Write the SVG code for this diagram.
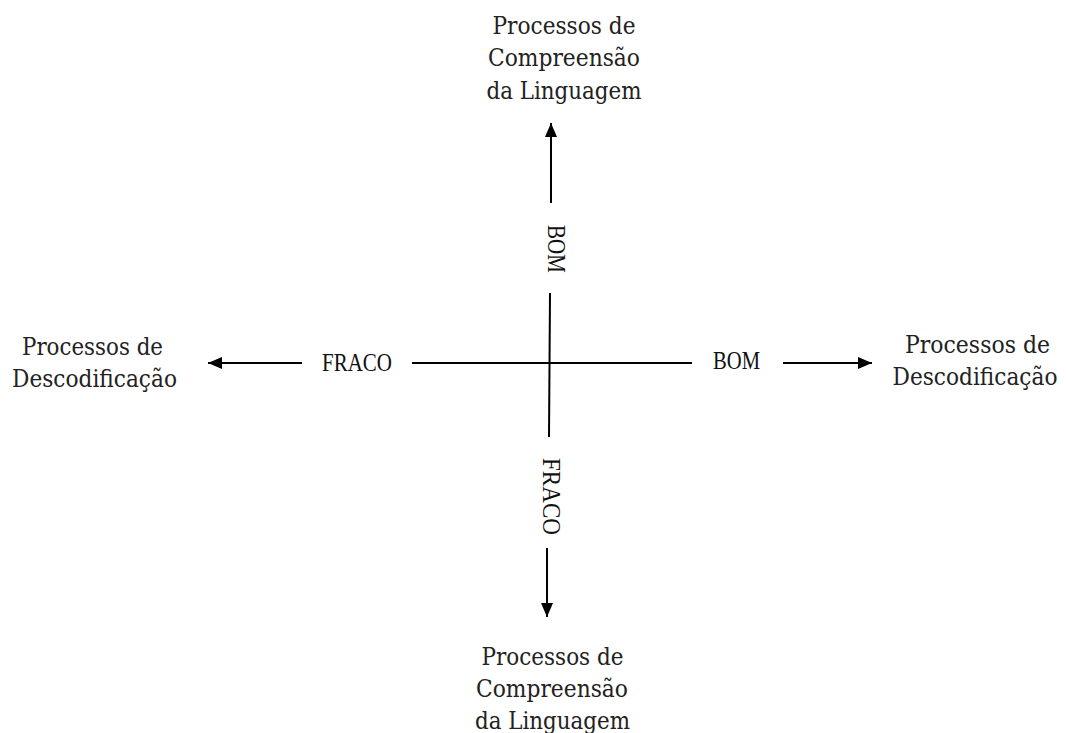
<svg xmlns="http://www.w3.org/2000/svg" width="1066" height="733" viewBox="0 0 1066 733">
  <style>
    .big { font-family: "DejaVu Serif", "Liberation Serif", serif; font-size: 25px; fill: #222; text-anchor: middle; }
    .lbl { font-family: "Liberation Serif", "Times New Roman", serif; font-size: 25px; fill: #111; text-anchor: middle; }
    .ln { stroke: #000; stroke-width: 2; fill: none; }
  </style>
  <defs>
    <marker id="ah" viewBox="0 0 14 12" refX="14" refY="6" markerWidth="14" markerHeight="12" markerUnits="userSpaceOnUse" orient="auto">
      <path d="M0,0 L14,6 L0,12 Z" fill="#000"/>
    </marker>
  </defs>
  <rect width="1066" height="733" fill="#fff"/>

  <g id="connectors">
    <line class="ln" x1="412" y1="363" x2="692" y2="363"/>
    <line class="ln" x1="550" y1="293" x2="549" y2="437"/>
    <line class="ln" x1="551" y1="203" x2="551" y2="123" marker-end="url(#ah)"/>
    <line class="ln" x1="547" y1="548" x2="547" y2="617" marker-end="url(#ah)"/>
    <line class="ln" x1="302" y1="363" x2="208" y2="363" marker-end="url(#ah)"/>
    <line class="ln" x1="783" y1="363" x2="872" y2="363" marker-end="url(#ah)"/>
  </g>

  <g id="label-fraco-left">
    <text class="lbl" x="357" y="371" textLength="70" lengthAdjust="spacingAndGlyphs">FRACO</text>
  </g>
  <g id="label-bom-right">
    <text class="lbl" x="736.5" y="368.5" textLength="47" lengthAdjust="spacingAndGlyphs">BOM</text>
  </g>
  <g id="label-bom-top">
    <text class="lbl" transform="translate(548,249) rotate(90)" x="0" y="0" textLength="48" lengthAdjust="spacingAndGlyphs">BOM</text>
  </g>
  <g id="label-fraco-bottom">
    <text class="lbl" transform="translate(542.5,496.5) rotate(90)" x="0" y="0" textLength="77" lengthAdjust="spacingAndGlyphs">FRACO</text>
  </g>

  <g id="node-top">
    <text class="big" x="564" y="34" textLength="143" lengthAdjust="spacingAndGlyphs">Processos de</text>
    <text class="big" x="564" y="66" textLength="152" lengthAdjust="spacingAndGlyphs">Compreensão</text>
    <text class="big" x="564" y="99" textLength="155" lengthAdjust="spacingAndGlyphs">da Linguagem</text>
  </g>
  <g id="node-bottom">
    <text class="big" x="552.5" y="665" textLength="142" lengthAdjust="spacingAndGlyphs">Processos de</text>
    <text class="big" x="552" y="697" textLength="152" lengthAdjust="spacingAndGlyphs">Compreensão</text>
    <text class="big" x="552.5" y="729" textLength="155" lengthAdjust="spacingAndGlyphs">da Linguagem</text>
  </g>
  <g id="node-left">
    <text class="big" x="92.5" y="355" textLength="141" lengthAdjust="spacingAndGlyphs">Processos de</text>
    <text class="big" x="94.5" y="387" textLength="165" lengthAdjust="spacingAndGlyphs">Descodificação</text>
  </g>
  <g id="node-right">
    <text class="big" x="977.5" y="353" textLength="145" lengthAdjust="spacingAndGlyphs">Processos de</text>
    <text class="big" x="975" y="385" textLength="165" lengthAdjust="spacingAndGlyphs">Descodificação</text>
  </g>
</svg>
